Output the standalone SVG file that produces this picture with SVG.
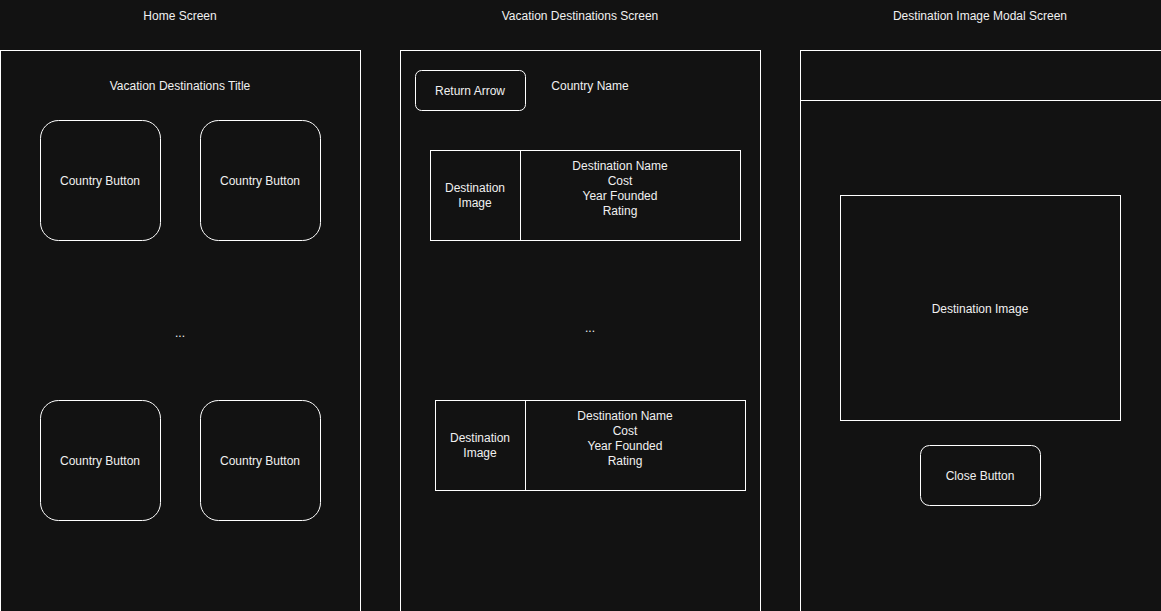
<svg xmlns="http://www.w3.org/2000/svg" width="1161" height="611" viewBox="0 0 1161 611">
<style>
.bx{fill:#121212;stroke:#ffffff;stroke-width:1}
.t{font-family:"Liberation Sans",Arial,sans-serif;font-size:12px;fill:#f0f0f0;text-anchor:middle}
</style>
<rect x="0" y="0" width="1161" height="611" fill="#121212"/>
<g id="titles">
<text class="t" x="180" y="20">Home Screen</text>
<text class="t" x="580" y="20">Vacation Destinations Screen</text>
<text class="t" x="980" y="20">Destination Image Modal Screen</text>
</g>
<g id="home-screen">
<rect class="bx" x="0.5" y="50.5" width="360" height="600"/>
<text class="t" x="180" y="90">Vacation Destinations Title</text>
<text class="t" x="180" y="337">...</text>
</g>
<g id="country-btn-1"><rect class="bx" x="40.5" y="120.5" width="120" height="120" rx="18"/><text class="t" x="100" y="185">Country Button</text></g>
<g id="country-btn-2"><rect class="bx" x="200.5" y="120.5" width="120" height="120" rx="18"/><text class="t" x="260" y="185">Country Button</text></g>
<g id="country-btn-3"><rect class="bx" x="40.5" y="400.5" width="120" height="120" rx="18"/><text class="t" x="100" y="465">Country Button</text></g>
<g id="country-btn-4"><rect class="bx" x="200.5" y="400.5" width="120" height="120" rx="18"/><text class="t" x="260" y="465">Country Button</text></g>
<g id="destinations-screen">
<rect class="bx" x="400.5" y="50.5" width="360" height="600"/>
<text class="t" x="590" y="90">Country Name</text>
<text class="t" x="590" y="332">...</text>
</g>
<g id="return-arrow"><rect class="bx" x="415.5" y="70.5" width="110" height="40" rx="6"/><text class="t" x="470" y="95">Return Arrow</text></g>
<g id="destination-row-1">
<rect class="bx" x="430.5" y="150.5" width="310" height="90"/>
<line x1="520.5" y1="150.5" x2="520.5" y2="240.5" stroke="#ffffff"/>
<text class="t" x="475" y="192">Destination</text>
<text class="t" x="475" y="207">Image</text>
<text class="t" x="620" y="170">Destination Name</text>
<text class="t" x="620" y="185">Cost</text>
<text class="t" x="620" y="200">Year Founded</text>
<text class="t" x="620" y="215">Rating</text>
</g>
<g id="destination-row-2">
<rect class="bx" x="435.5" y="400.5" width="310" height="90"/>
<line x1="525.5" y1="400.5" x2="525.5" y2="490.5" stroke="#ffffff"/>
<text class="t" x="480" y="442">Destination</text>
<text class="t" x="480" y="457">Image</text>
<text class="t" x="625" y="420">Destination Name</text>
<text class="t" x="625" y="435">Cost</text>
<text class="t" x="625" y="450">Year Founded</text>
<text class="t" x="625" y="465">Rating</text>
</g>
<g id="modal-screen">
<rect class="bx" x="800.5" y="50.5" width="400" height="600"/>
<line x1="800.5" y1="100.5" x2="1200" y2="100.5" stroke="#ffffff"/>
</g>
<g id="destination-image"><rect class="bx" x="840.5" y="195.5" width="280" height="225"/><text class="t" x="980" y="313">Destination Image</text></g>
<g id="close-button"><rect class="bx" x="920.5" y="445.5" width="120" height="60" rx="9"/><text class="t" x="980" y="480">Close Button</text></g>
<g id="connectors"/>
</svg>
